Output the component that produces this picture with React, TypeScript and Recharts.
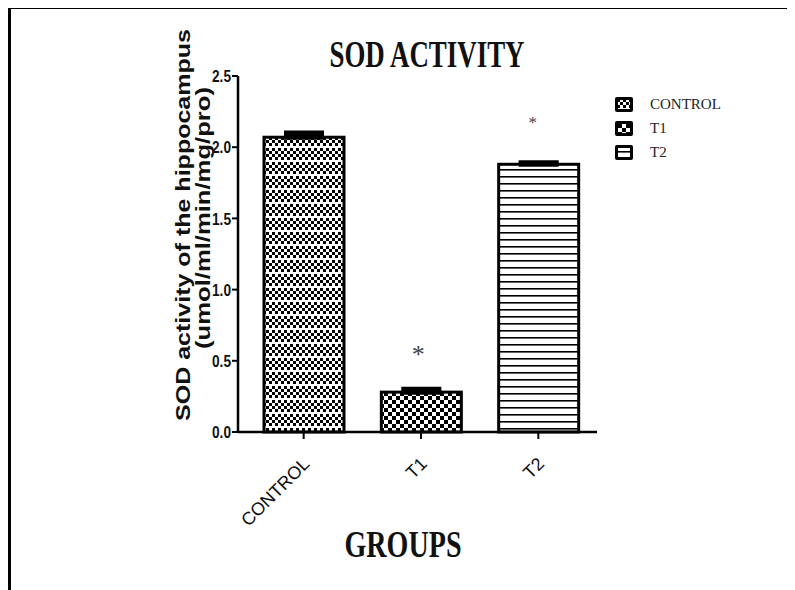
import { BarChart, Bar, XAxis, YAxis, ErrorBar, LabelList } from "recharts";

const groups = ["CONTROL", "T1", "T2"];
const sodMeans = [2.07, 0.28, 1.88];
const sodErrors = [0.03, 0.02, 0.01];
const marks = ["", "*", "*"];
const yTicks = [0, 0.5, 1.0, 1.5, 2.0, 2.5];

const data = groups.map((g, i) => ({
  group: g,
  sod: sodMeans[i],
  err: [0, sodErrors[i]],
  mark: marks[i],
}));

// fill pattern per group
const patternFor: Record<string, string> = {
  CONTROL: "url(#patControl)",
  T1: "url(#patT1)",
  T2: "url(#patT2)",
};

// asterisk look per group
const markStyle: Record<string, { size: number; lift: number; shift: number }> = {
  T1: { size: 26, lift: 29, shift: -3 },
  T2: { size: 17, lift: 36, shift: -6 },
};

const sans = "'Liberation Sans', Arial, sans-serif";
const serif = "'Liberation Serif', 'Times New Roman', serif";

const Patterns = () => (
  <svg width={0} height={0} style={{ position: "absolute" }}>
    <defs>
      <pattern id="patControl" width={6} height={14} patternUnits="userSpaceOnUse">
        <rect width={6} height={14} fill="#fff" />
        <rect x={0} y={0} width={3} height={3} fill="#000" />
        <rect x={3} y={3} width={3} height={3} fill="#000" />
        <rect x={0} y={6} width={3} height={3} fill="#000" />
        <rect x={3} y={9} width={3} height={3} fill="#000" />
      </pattern>
      <pattern id="patT1" width={8} height={8} patternUnits="userSpaceOnUse">
        <rect width={8} height={8} fill="#fff" />
        <rect x={0} y={0} width={4} height={4} fill="#000" />
        <rect x={4} y={4} width={4} height={4} fill="#000" />
      </pattern>
      <pattern id="patT2" width={8} height={7} patternUnits="userSpaceOnUse">
        <rect width={8} height={7} fill="#fff" />
        <rect x={0} y={0} width={8} height={1.6} fill="#000" />
      </pattern>
    </defs>
  </svg>
);

const GroupTick = (props: any) => {
  const { x, y, payload } = props;
  const ax = x + 7;
  const ay = y + 24;
  return (
    <text
      x={ax}
      y={ay}
      transform={`rotate(-45 ${ax} ${ay})`}
      textAnchor="end"
      fontFamily={sans}
      fontSize={18}
      fill="#111"
    >
      {payload.value}
    </text>
  );
};

const ValueTick = (props: any) => {
  const { x, y, payload } = props;
  return (
    <text
      x={x}
      y={y}
      dy="0.36em"
      textAnchor="end"
      fontFamily={sans}
      fontWeight="bold"
      fontSize={17}
      textLength={19}
      lengthAdjust="spacingAndGlyphs"
      fill="#111"
    >
      {payload.value.toFixed(1)}
    </text>
  );
};

const MarkLabel = (props: any) => {
  const { x, y, width, index } = props;
  const g = groups[index];
  const st = markStyle[g];
  if (!st || !marks[index]) return null;
  return (
    <text
      x={x + width / 2 + st.shift}
      y={y - st.lift}
      textAnchor="middle"
      fontFamily={serif}
      fontSize={st.size}
      fill="#444"
    >
      {marks[index]}
    </text>
  );
};

const LegendBox = () => (
  <div style={{ position: "absolute", left: 606, top: 84 }}>
    {groups.map((g) => (
      <div key={g} style={{ display: "flex", alignItems: "center", height: 24 }}>
        <svg width={20} height={17}>
          <rect x={1} y={1} width={18} height={15} rx={2} fill="#000" />
          <rect x={4} y={4} width={12} height={9} fill={patternFor[g]} />
        </svg>
        <span
          style={{
            marginLeft: 16,
            fontFamily: serif,
            fontSize: 15,
            color: "#222",
          }}
        >
          {g}
        </span>
      </div>
    ))}
  </div>
);

export default function App() {
  return (
    <div style={{ position: "relative", width: 787, height: 582 }}>
      <Patterns />
      <div style={{ position: "absolute", left: 0, top: -1, width: 787, height: 2, background: "#000" }} />
      <div style={{ position: "absolute", left: 0, top: -1, width: 3, height: 583, background: "#000" }} />
      <BarChart
        width={787}
        height={582}
        data={data}
        margin={{ top: 68, right: 198, bottom: 98, left: 190 }}
      >
        <XAxis
          dataKey="group"
          height={60}
          padding={{ left: 7, right: 0 }}
          axisLine={{ stroke: "#000", strokeWidth: 2.5 }}
          tickLine={{ stroke: "#000", strokeWidth: 2 }}
          tickSize={7}
          tick={<GroupTick />}
          interval={0}
        />
        <YAxis
          width={40}
          domain={[0, 2.5]}
          ticks={yTicks}
          axisLine={{ stroke: "#000", strokeWidth: 2.5 }}
          tickLine={{ stroke: "#000", strokeWidth: 2 }}
          tickSize={6}
          tickMargin={1}
          tick={<ValueTick />}
        />
        <Bar
          dataKey="sod"
          barSize={80}
          stroke="#000"
          strokeWidth={3}
          isAnimationActive={false}
          shape={(p: any) => (
            <rect
              x={p.x}
              y={p.y}
              width={p.width}
              height={p.height}
              fill={patternFor[p.payload.group]}
              stroke="#000"
              strokeWidth={3}
            />
          )}
        >
          <ErrorBar dataKey="err" width={20} strokeWidth={5} stroke="#000" direction="y" />
          <LabelList dataKey="mark" content={<MarkLabel />} />
        </Bar>
      </BarChart>
      <svg
        width={787}
        height={582}
        style={{ position: "absolute", left: 0, top: 0, pointerEvents: "none" }}
      >
        <text
          x={419}
          y={59}
          textAnchor="middle"
          fontFamily={serif}
          fontWeight="bold"
          fontSize={38}
          textLength={195}
          lengthAdjust="spacingAndGlyphs"
          fill="#111"
        >
          SOD ACTIVITY
        </text>
        <text
          x={395}
          y={549}
          textAnchor="middle"
          fontFamily={serif}
          fontWeight="bold"
          fontSize={37}
          textLength={117}
          lengthAdjust="spacingAndGlyphs"
          fill="#111"
        >
          GROUPS
        </text>
        <text
          transform="translate(182 217) rotate(-90)"
          textAnchor="middle"
          fontFamily={sans}
          fontWeight="bold"
          fontSize={21}
          textLength={392}
          lengthAdjust="spacingAndGlyphs"
          fill="#111"
        >
          SOD activity of the hippocampus
        </text>
        <text
          transform="translate(202 210) rotate(-90)"
          textAnchor="middle"
          fontFamily={sans}
          fontWeight="bold"
          fontSize={20}
          textLength={262}
          lengthAdjust="spacingAndGlyphs"
          fill="#111"
        >
          (umol/ml/min/mg/pro)
        </text>
      </svg>
      <LegendBox />
    </div>
  );
}
